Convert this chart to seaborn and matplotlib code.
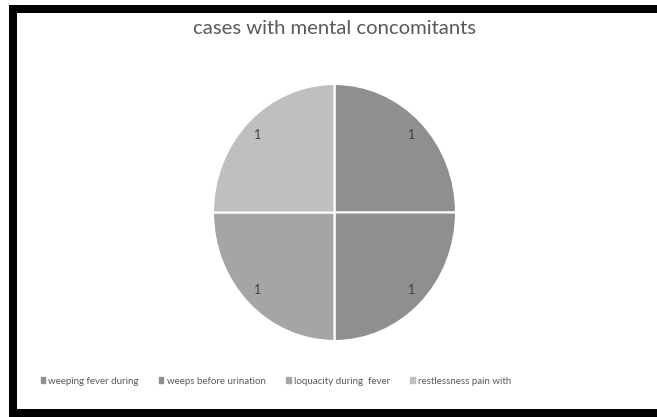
import numpy as np
import matplotlib
matplotlib.use("Agg")
import matplotlib.pyplot as plt
import matplotlib.patches as mpatches
import seaborn as sns

# data
labels = ['weeping fever during', 'weeps before urination',
          'loquacity during  fever', 'restlessness pain with']
cases = [1, 1, 1, 1]
colors = ['#8f8f8f', '#8f8f8f', '#a5a5a5', '#bfbfbf']

sns.set_theme(style='white')
plt.rcParams['font.family'] = ['Lato', 'DejaVu Sans']

W, H = 657, 417
fig = plt.figure(figsize=(W / 100, H / 100), dpi=100)
fig.patch.set_facecolor('white')

# pie axes: centre (334.5, 212.5) px, slightly stretched vertically as in the source
cx, cy, rx, ry = 334.5, 212.5, 121.5, 128.5
ax = fig.add_axes([(cx - rx) / W, (H - cy - ry) / H, 2 * rx / W, 2 * ry / H])
wedges, texts = ax.pie(cases, colors=colors, startangle=90, counterclock=False,
                       labels=[str(v) for v in cases], labeldistance=0.85,
                       wedgeprops=dict(edgecolor='white', linewidth=1.5))
for t in texts:
    t.set_color('#404040')
    t.set_fontsize(9)
ax.set_aspect('auto')
ax.set_xlim(-1, 1)
ax.set_ylim(-1, 1)
ax.axis('off')

fig.text(cx / W, 1 - 28 / H, 'cases with mental concomitants',
         ha='center', va='center', fontsize=14.6, color='#595959')

handles = [mpatches.Patch(color=c, label=l) for c, l in zip(colors, labels)]
leg = fig.legend(handles=handles, loc='center', ncol=4,
                 bbox_to_anchor=(276 / W, 1 - 381 / H), frameon=False,
                 fontsize=7, handlelength=0.45, handleheight=0.45,
                 handletextpad=0.35, columnspacing=2.1)
for t in leg.get_texts():
    t.set_color('#595959')

# black frame (left, top, bottom)
fig.add_artist(mpatches.Rectangle((9 / W, 0), 8 / W, 1 - 5 / H,
                                  transform=fig.transFigure, color='black', lw=0))
fig.add_artist(mpatches.Rectangle((9 / W, 1 - 13 / H), 1, 8 / H,
                                  transform=fig.transFigure, color='black', lw=0))
fig.add_artist(mpatches.Rectangle((9 / W, 0), 1, 8 / H,
                                  transform=fig.transFigure, color='black', lw=0))

fig.savefig('out.png', dpi=100)
